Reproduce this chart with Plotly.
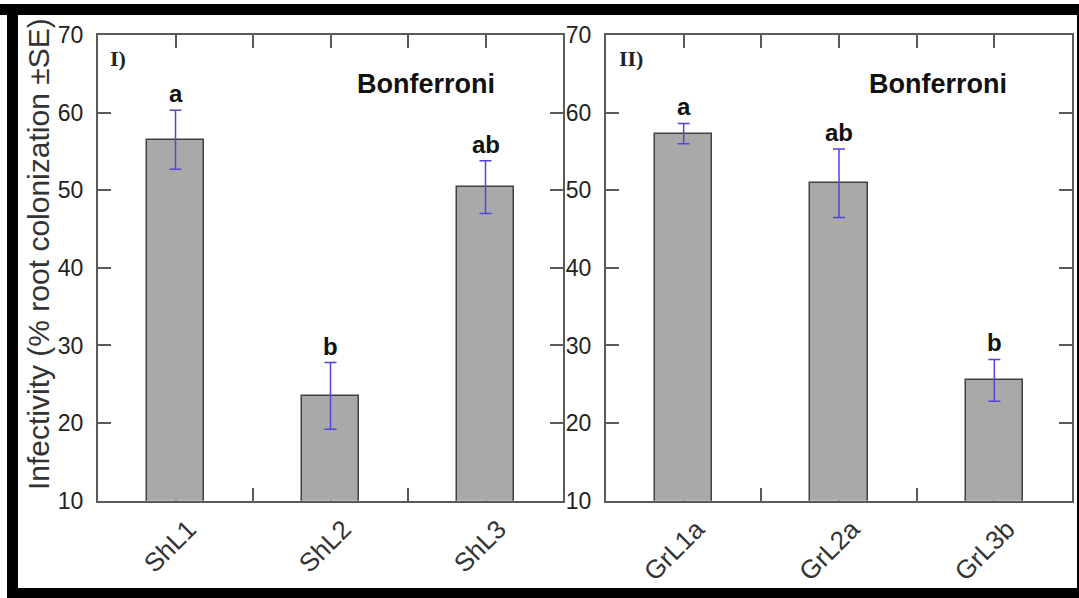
import plotly.graph_objects as go

# ---- data ----
cats1 = ["ShL1", "ShL2", "ShL3"]
vals1 = [56.5, 23.5, 50.4]
se1 = [3.8, 4.3, 3.4]
letters1 = ["a", "b", "ab"]

cats2 = ["GrL1a", "GrL2a", "GrL3b"]
vals2 = [57.3, 50.9, 25.5]
se2 = [1.3, 4.4, 2.7]
letters2 = ["a", "ab", "b"]

y_ticks = [10, 20, 30, 40, 50, 60, 70]
panel_labels = ["I)", "II)"]
test_name = "Bonferroni"
y_title = "Infectivity (% root colonization ±SE)"

W, H = 1079, 598
def px(x): return x / W
def py(y): return 1 - y / H

FONT = "Liberation Sans, Arial, sans-serif"
BAR_FILL = "#a9a9a9"
BAR_LINE = "#404040"
ERR = "#4f44dc"
AXIS = "#5a5a5a"

fig = go.Figure()
panels = [(cats1, vals1, se1, letters1, "x", "y"), (cats2, vals2, se2, letters2, "x2", "y2")]
for cats, vals, se, lets, xa, ya in panels:
    xs = list(range(len(cats)))
    fig.add_trace(go.Bar(
        x=xs, y=vals, width=0.37, xaxis=xa, yaxis=ya,
        marker=dict(color=BAR_FILL, line=dict(color=BAR_LINE, width=1.5)),
        error_y=dict(type="data", array=se, visible=True, color=ERR, thickness=1.5, width=6),
        showlegend=False,
    ))
    for xi, v, e, t in zip(xs, vals, se, lets):
        fig.add_annotation(x=xi, y=v + e, xref=xa, yref=ya, text=f"<b>{t}</b>",
                           showarrow=False, yanchor="bottom", yshift=1,
                           font=dict(family=FONT, size=24, color="#111"))

ydom = [py(500.7), py(35)]
xdoms = [[px(98), px(563)], [px(606), px(1072)]]

def xaxis_cfg(dom, cats, anchor):
    tv, tt = [], []
    for i, c in enumerate(cats):
        tv.append(i); tt.append(c)
        if i < len(cats) - 1:
            tv.append(i + 0.5); tt.append("")
    return dict(domain=dom, anchor=anchor, range=[-0.5, len(cats) - 0.5],
                tickmode="array", tickvals=tv, ticktext=tt, tickangle=-45,
                ticks="inside", ticklen=13, tickwidth=1.5, tickcolor=AXIS,
                showline=True, linecolor=AXIS, linewidth=2, mirror="ticks",
                showgrid=False, zeroline=False, layer="below traces",
                tickfont=dict(family=FONT, size=26, color="#333"),
                ticklabelstandoff=1, ticklabelshift=13,
                fixedrange=True, automargin=False)

def yaxis_cfg(anchor):
    return dict(domain=ydom, anchor=anchor, range=[10, 70],
                tickmode="array", tickvals=y_ticks,
                ticks="inside", ticklen=13, tickwidth=1.5, tickcolor=AXIS,
                showline=True, linecolor=AXIS, linewidth=2, mirror="ticks",
                showgrid=False, zeroline=False, layer="below traces",
                tickfont=dict(family=FONT, size=23, color="#222"),
                ticklabelstandoff=8, fixedrange=True, automargin=False)

fig.update_layout(
    width=W, height=H,
    margin=dict(l=0, r=0, t=0, b=0, pad=0, autoexpand=False),
    paper_bgcolor="white", plot_bgcolor="white",
    xaxis=xaxis_cfg(xdoms[0], cats1, "y"),
    xaxis2=xaxis_cfg(xdoms[1], cats2, "y2"),
    yaxis=yaxis_cfg("x"),
    yaxis2=yaxis_cfg("x2"),
    bargap=0,
)

# Y title
fig.add_annotation(x=px(39), y=py(254), xref="paper", yref="paper", text=y_title,
                   textangle=-90, showarrow=False, xanchor="center", yanchor="middle",
                   font=dict(family=FONT, size=30, color="#333"))

# Panel labels and test name
for lab, xl in zip(panel_labels, [108, 617]):
    fig.add_annotation(x=px(xl), y=py(58), xref="paper", yref="paper", text=f"<b>{lab}</b>",
                       showarrow=False, xanchor="left", yanchor="middle",
                       font=dict(family="Liberation Serif, Times New Roman, serif", size=22, color="#222"))
for xc in [426, 938]:
    fig.add_annotation(x=px(xc), y=py(84), xref="paper", yref="paper", text=f"<b>{test_name}</b>",
                       showarrow=False, xanchor="center", yanchor="middle",
                       font=dict(family=FONT, size=27, color="#111"))

# Black frame around the figure
frame = [(0, 4, W, 15), (7, 4, 18, H), (7, 588, W, H), (1077, 4, W, H)]
for x0, y0, x1, y1 in frame:
    fig.add_shape(type="rect", xref="paper", yref="paper",
                  x0=px(x0), x1=px(x1), y0=py(y1), y1=py(y0),
                  fillcolor="black", line=dict(width=0), layer="above")

post = (
    "document.body.style.margin='0';document.body.style.overflow='hidden';"
    "document.documentElement.style.overflow='hidden';"
)
fig.write_html("out.html", config={"displayModeBar": False}, post_script=post)
